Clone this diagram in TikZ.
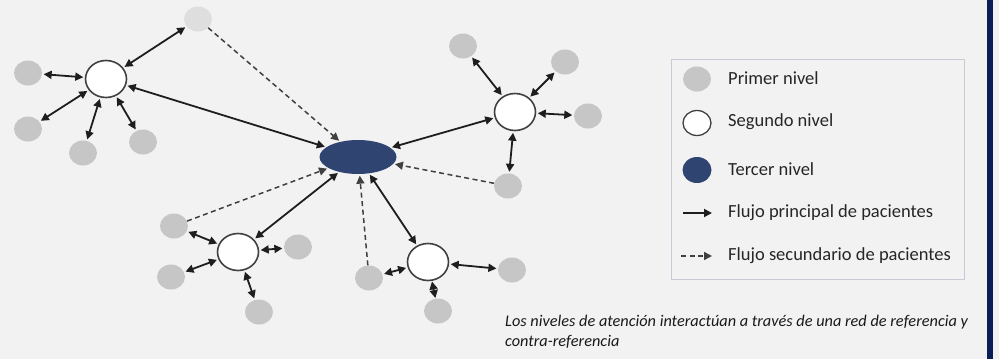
\documentclass[tikz,border=0pt]{standalone}
\usepackage{fontspec}
\setmainfont{Carlito}
\usetikzlibrary{shapes.geometric,arrows.meta}
\definecolor{bg}{RGB}{242,242,242}
\definecolor{pgray}{RGB}{198,198,198}
\definecolor{plight}{RGB}{222,222,222}
\definecolor{tnavy}{RGB}{47,68,112}
\definecolor{barnavy}{RGB}{12,30,88}
\definecolor{edgec}{RGB}{30,30,30}
\definecolor{legborder}{RGB}{200,202,214}
\tikzset{
  prim/.style={ellipse,fill=pgray,draw=none,minimum width=28pt,minimum height=25pt,inner sep=0pt},
  primlight/.style={prim,fill=plight},
  seg/.style={ellipse,fill=white,draw=black!75,line width=1.6pt,minimum width=41pt,minimum height=37pt,inner sep=0pt},
  terc/.style={ellipse,fill=tnavy,draw=none,minimum width=77pt,minimum height=34pt,inner sep=0pt},
  both/.style={{Triangle[length=8pt,width=8pt]}-{Triangle[length=8pt,width=8pt]},line width=1.8pt,draw=edgec,shorten <=1.5pt,shorten >=1.5pt},
  main/.style={-{Triangle[length=8pt,width=8pt]},line width=1.8pt,draw=edgec},
  sec/.style={-{Triangle[length=8pt,width=8pt]},line width=1.5pt,draw=edgec!85,dash pattern=on 5pt off 3.5pt,shorten >=1.5pt},
  legtext/.style={anchor=west,font=\fontsize{18.5}{22}\selectfont,text=black!85,inner sep=0pt},
}
\begin{document}
\begin{tikzpicture}[x=1pt,y=-1pt]
\fill[bg] (0,0) rectangle (999,359);
\useasboundingbox (0,0) rectangle (999,359);
\fill[barnavy] (987,0) rectangle (993,359);

% central node
\node[terc] (T) at (358,157) {};

% cluster 1 (top left)
\node[seg] (S1) at (106,79) {};
\node[prim] (Pa) at (28,73) {};
\node[prim] (Pb) at (28,129) {};
\node[prim] (Pc) at (83,153) {};
\node[prim] (Pd) at (143,142) {};
\node[primlight] (Ptop) at (198,19) {};

% cluster 2 (right)
\node[seg] (S2) at (515,112) {};
\node[prim] (Pe) at (463,46) {};
\node[prim] (Pf) at (565,62) {};
\node[prim] (Pg) at (588,116) {};
\node[prim] (Ph) at (508,186) {};

% cluster 3 (bottom left)
\node[seg] (S3) at (238,252) {};
\node[prim] (Pi) at (174,226) {};
\node[prim] (Pj) at (171,277) {};
\node[prim] (Pk) at (298,247) {};
\node[prim] (Pl) at (259,312) {};

% cluster 4 (bottom middle)
\node[seg] (S4) at (428,262) {};
\node[prim] (Pm) at (369,278) {};
\node[prim] (Pn) at (512,270) {};
\node[prim] (Po) at (438,311) {};

% edges
\draw[both] (S1) -- (Pa);
\draw[both] (S1) -- (Pb);
\draw[both] (S1) -- (Pc);
\draw[both] (S1) -- (Pd);
\draw[both] (S1) -- (Ptop);
\draw[both] (S1) -- (T);
\draw[sec] (Ptop) -- (T);

\draw[both] (S2) -- (T);
\draw[both] (S2) -- (Pe);
\draw[both] (S2) -- (Pf);
\draw[both] (S2) -- (Pg);
\draw[both] (S2) -- (Ph);
\draw[sec] (Ph) -- (T);

\draw[both] (S3) -- (T);
\draw[both] (S3) -- (Pi);
\draw[both] (S3) -- (Pj);
\draw[both] (S3) -- (Pk);
\draw[both] (S3) -- (Pl);
\draw[sec] (Pi) -- (T);

\draw[both] (S4) -- (T);
\draw[both] (S4) -- (Pm);
\draw[both] (S4) -- (Pn);
\draw[both,shorten <=0.5pt,shorten >=0.5pt] (S4) -- (Po);
\draw[sec] (Pm) -- (T);

% legend
\node[draw=legborder,line width=0.8pt,fill=bg,minimum width=293pt,minimum height=220pt,inner sep=0pt,anchor=north west] (leg) at (671,59) {};
\node[prim] (L1) at (697,79) {};
\node[seg,minimum width=28pt,minimum height=25pt,line width=1.3pt] (L2) at (697,123) {};
\node[terc,minimum width=29pt,minimum height=26pt] (L3) at (697,170) {};
\coordinate (L4a) at (683,213);
\coordinate (L4b) at (712,213);
\coordinate (L5a) at (681,256);
\coordinate (L5b) at (712,256);
\draw[main] (L4a) -- (L4b);
\draw[sec,shorten >=0pt] (L5a) -- (L5b);
\node[legtext] (T1) at (728,78) {Primer nivel};
\node[legtext] (T2) at (728,122) {Segundo nivel};
\node[legtext] (T3) at (728,169) {Tercer nivel};
\node[legtext] (T4) at (728,213) {Flujo principal de pacientes};
\node[legtext] (T5) at (728,256) {Flujo secundario de pacientes};

% caption
\node[anchor=north west,align=left,font=\fontsize{16.3}{20}\selectfont\itshape,text=black!90,inner sep=0pt] (cap) at (505,315) {Los niveles de atención interactúan a través de una red de referencia y\\contra-referencia};
\end{tikzpicture}
\end{document}
